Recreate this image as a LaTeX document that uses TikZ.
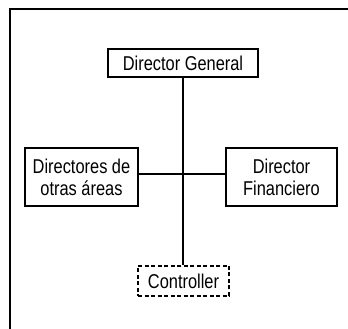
\documentclass[tikz,border=0pt]{standalone}
\usepackage{fontspec}
\setmainfont{Liberation Sans}[FakeStretch=0.82]
\usepackage{tikz}
\tikzstyle{post} = [draw=black, line width=1.2pt, inner sep=0pt, align=center, font={\fontsize{20}{22}\selectfont}]
\tikzstyle{staff} = [post, dash pattern=on 4pt off 2.5pt]
\tikzstyle{link} = [line width=1.8pt]

\begin{document}
\begin{tikzpicture}[x=1pt,y=1pt]
        \useasboundingbox (0,0) rectangle (348,329);
        \draw[line width=2pt] (10,0) -- (10,320) -- (348,320);
        \node[post,minimum width=150pt,minimum height=28pt](dg) at (183,266){Director General};
        \node[post,minimum width=113pt,minimum height=58pt](otras) at (81.5,152){Directores de\\otras áreas};
        \node[post,minimum width=111pt,minimum height=58pt](fin) at (281.5,152){Director\\Financiero};
        \node[staff,minimum width=91pt,minimum height=30pt](ctrl) at (183.5,48){Controller};
        \coordinate(hub) at (183,155);
        \draw[link](dg.south)--(dg.south |- ctrl.north);
        \draw[link](otras.east |- hub)--(fin.west |- hub);
      \end{tikzpicture}
\end{document}
